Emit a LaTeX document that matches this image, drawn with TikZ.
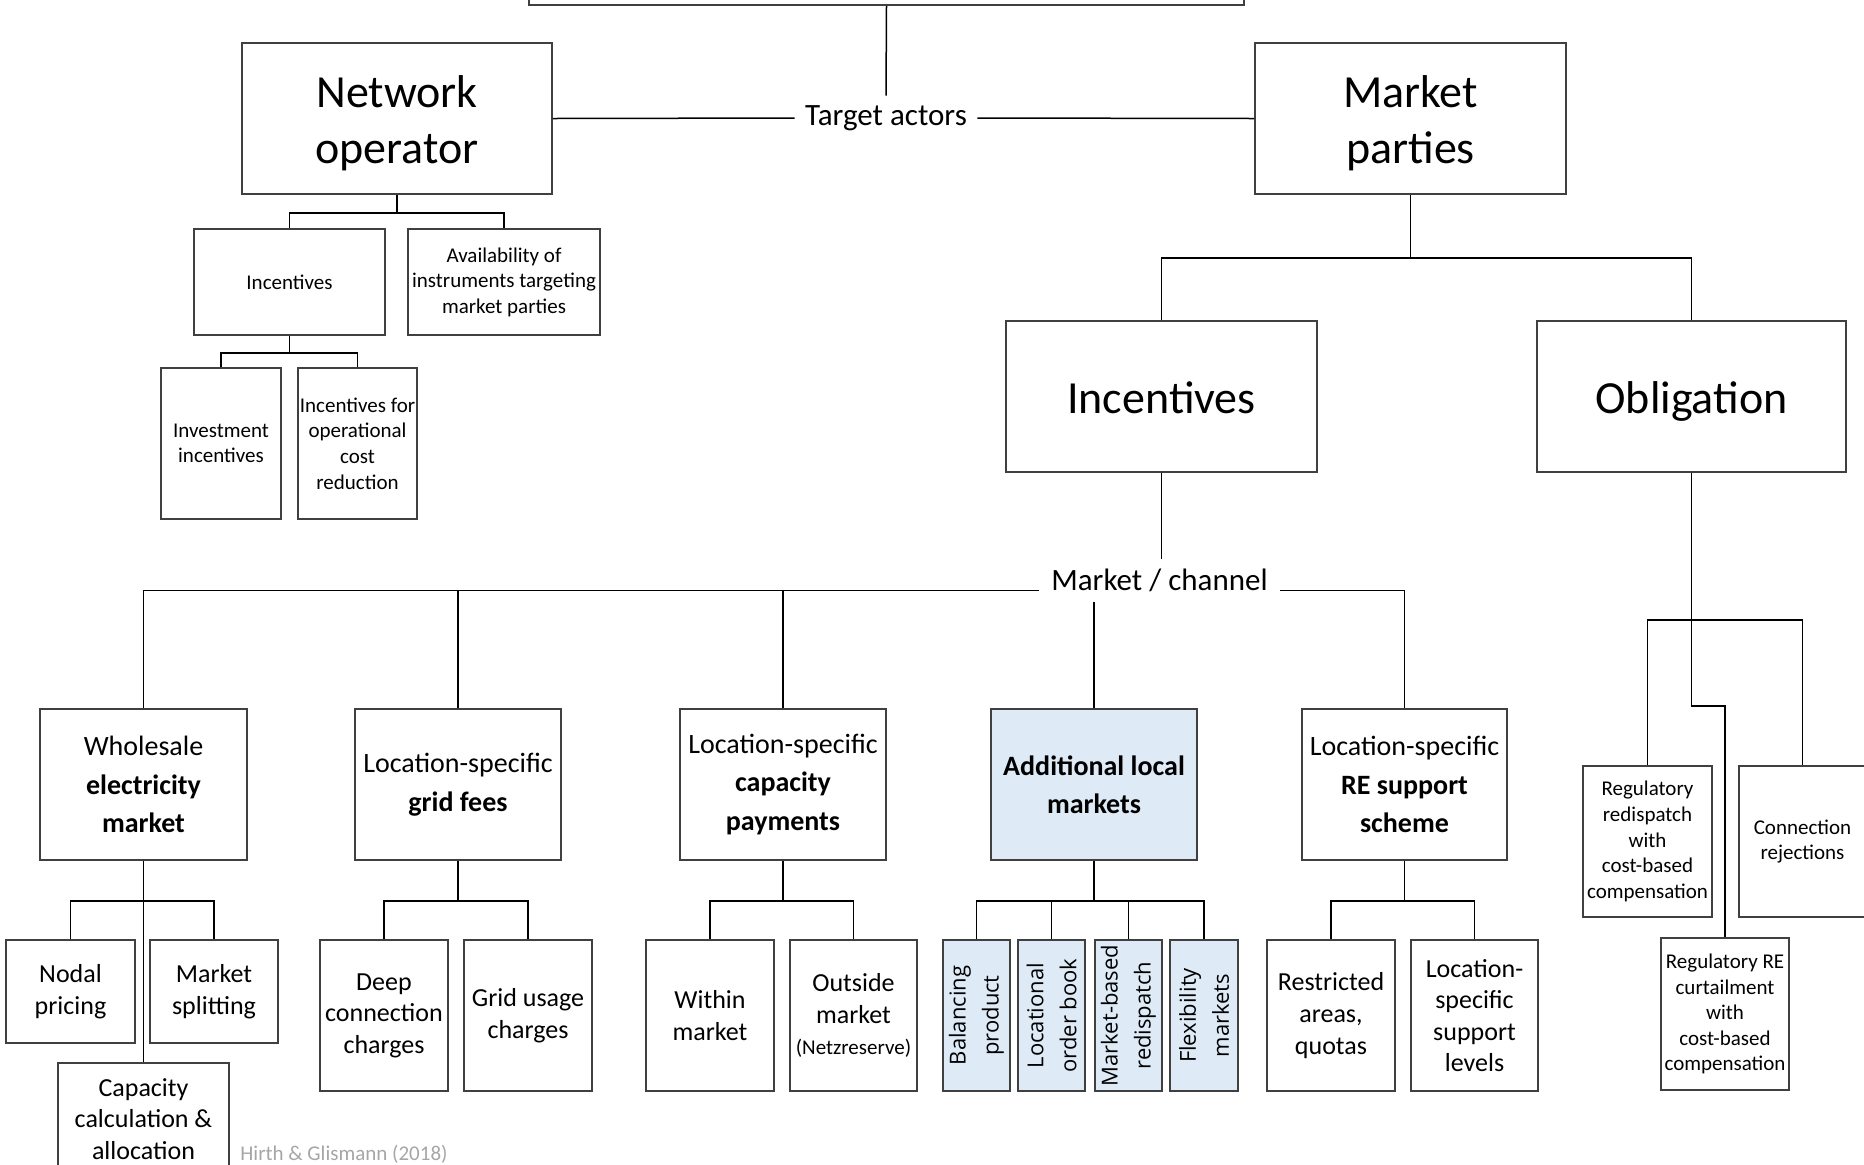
\documentclass[tikz,border=0pt]{standalone}
\usepackage{fontspec}
\setmainfont{Carlito}
\newfontfamily\rotfont{Open Sans}
\definecolor{bordergray}{RGB}{64,64,64}
\definecolor{lightblue}{RGB}{222,234,246}
\definecolor{srcgray}{RGB}{166,166,166}
\newcommand\fBig{\fontsize{23}{28.5}\selectfont}
\newcommand\fLab{\fontsize{15.5}{19}\selectfont}
\newcommand\fMid{\fontsize{14}{19.25}\selectfont}
\newcommand\fTh{\fontsize{13}{15.8}\selectfont}
\newcommand\fSm{\fontsize{10.5}{12.8}\selectfont}
\newcommand\fRot{\rotfont\fontsize{11}{16.5}\selectfont}
\newcommand\lowertext[2]{\raisebox{-#1}[\height][\depth]{#2}}
% \rbox{name}{style}{x1}{y1}{x2}{y2}{text}
\newcommand\rbox[7]{\node[#2, minimum width={(#5-#3)*0.5pt}, minimum height={(#6-#4)*0.5pt}] (#1) at ({(#3+#5)/2},{(#4+#6)/2}) {#7};}
% \treeconn{parent}{bar offset}{first child}{last child}
\newcommand\treeconn[4]{%
  \path (#1.south) ++(0,#2) coordinate (#1-bar);
  \draw[conn] (#1.south) -- (#1-bar);
  \draw[conn] (#3.north) |- (#1-bar) -| (#4.north);}
\begin{document}
\begin{tikzpicture}[x=0.5pt,y=-0.5pt,
  mybox/.style={draw=bordergray, line width=0.9pt, inner sep=0pt, align=center, fill=white},
  bluebox/.style={mybox, fill=lightblue},
  conn/.style={line width=0.75pt, draw=black},
  lbl/.style={inner sep=0pt, align=center}]
\useasboundingbox (0,0) rectangle (1864,1164);
\clip (0,0) rectangle (1864,1164);
% top level
\rbox{top}{mybox}{529}{-40}{1244}{5}{}
\rbox{ta}{lbl,font=\fLab}{795}{96}{977}{140}{Target actors}
\rbox{no}{mybox,font=\fBig}{242}{43}{552}{194}{\lowertext{2.6pt}{\begin{tabular}{@{}c@{}}Network\\[-0.5pt]operator\end{tabular}}}
\rbox{mp}{mybox,font=\fBig}{1255}{43}{1566}{194}{\lowertext{2.6pt}{\begin{tabular}{@{}c@{}}Market\\[-0.5pt]parties\end{tabular}}}
% network operator subtree
\rbox{ninc}{mybox,font=\fSm}{194}{229}{385}{335}{Incentives}
\rbox{navail}{mybox,font=\fSm}{408}{229}{600}{335}{Availability of\\instruments targeting\\market parties}
\rbox{ninv}{mybox,font=\fSm}{161}{368}{281}{519}{Investment\\incentives}
\rbox{nop}{mybox,font=\fSm}{298}{368}{417}{519}{Incentives for\\operational\\cost\\reduction}
% market parties subtree
\rbox{minc}{mybox,font=\fBig}{1006}{321}{1317}{472}{\lowertext{0.5pt}{Incentives}}
\rbox{obl}{mybox,font=\fBig}{1537}{321}{1846}{472}{\lowertext{2.4pt}{Obligation}}
\rbox{mc}{lbl,font=\fLab}{1039}{559}{1280}{602}{Market / channel}
% level 2
\rbox{wh}{mybox,font=\fMid}{40}{709}{247}{860}{Wholesale\\\textbf{electricity}\\\textbf{market}}
\rbox{gf}{mybox,font=\fMid}{355}{709}{561}{860}{Location-specific\\\textbf{grid fees}}
\rbox{cp}{mybox,font=\fMid}{680}{709}{886}{860}{Location-specific\\\textbf{capacity}\\\textbf{payments}}
\rbox{alm}{bluebox,font=\fMid}{991}{709}{1197}{860}{\textbf{Additional local}\\\textbf{markets}}
\rbox{re}{mybox,font=\fMid}{1302}{709}{1507}{860}{Location-specific\\\textbf{RE support}\\\textbf{scheme}}
% obligation children
\rbox{rr}{mybox,font=\fSm}{1583}{766}{1712}{917}{Regulatory\\redispatch\\with\\cost-based\\compensation}
\rbox{cr}{mybox,font=\fSm}{1739}{766}{1866}{917}{Connection\\rejections}
\rbox{rc}{mybox,font=\fSm}{1661}{938}{1789}{1090}{Regulatory RE\\curtailment\\with\\cost-based\\compensation}
% level 3
\rbox{np}{mybox,font=\fTh}{6}{940}{135}{1043}{Nodal\\pricing}
\rbox{ms}{mybox,font=\fTh}{150}{940}{278}{1043}{Market\\splitting}
\rbox{cc}{mybox,font=\fTh}{58}{1063}{229}{1175}{Capacity\\calculation \&\\allocation}
\rbox{dc}{mybox,font=\fTh}{320}{940}{448}{1091}{Deep\\connection\\charges}
\rbox{gu}{mybox,font=\fTh}{464}{940}{592}{1091}{Grid usage\\charges}
\rbox{wm}{mybox,font=\fTh}{646}{940}{774}{1091}{Within\\market}
\rbox{om}{mybox,font=\fTh}{790}{940}{917}{1091}{Outside\\market\\{\fSm(Netzreserve)}}
\rbox{bp}{bluebox}{943}{940}{1010}{1091}{}
\rbox{lo}{bluebox}{1018}{940}{1085}{1091}{}
\rbox{mb}{bluebox}{1095}{940}{1162}{1091}{}
\rbox{fm}{bluebox}{1170}{940}{1238}{1091}{}
\node[lbl,rotate=90,font=\fRot] (bpT) at (bp.center) {Balancing\\product};
\node[lbl,rotate=90,font=\fRot] (loT) at (lo.center) {Locational\\order book};
\node[lbl,rotate=90,font=\fRot] (mbT) at (mb.center) {Market-based\\redispatch};
\node[lbl,rotate=90,font=\fRot] (fmT) at (fm.center) {Flexibility\\markets};
\rbox{ra}{mybox,font=\fTh}{1267}{940}{1395}{1091}{Restricted\\areas,\\quotas}
\rbox{ls}{mybox,font=\fTh}{1411}{940}{1538}{1091}{Location-\\specific\\support\\levels}
\node[lbl,anchor=west,text=srcgray,font=\fSm] (src) at (240,1154) {Hirth \& Glismann (2018)};
% connectors
\draw[conn] (top.south) -- (ta.north);
\draw[conn] (no.east) -- (ta.west);
\draw[conn] (ta.east) -- (mp.west);
\treeconn{no}{18}{ninc}{navail}
\treeconn{ninc}{17}{ninv}{nop}
\treeconn{mp}{63}{minc}{obl}
\draw[conn] (minc.south) -- (minc.south |- mc.north);
\draw[conn] (alm.north |- mc.south) -- (alm.north);
\draw[conn] (wh.north) |- (mc.base west);
\draw[conn] (gf.north) -- (gf.north |- mc.base west);
\draw[conn] (cp.north) -- (cp.north |- mc.base west);
\draw[conn] (mc.base east) -| (re.north);
\treeconn{wh}{40}{np}{ms}
\draw[conn] (wh-bar) -- (cc.north);
\treeconn{gf}{40}{dc}{gu}
\treeconn{cp}{40}{wm}{om}
\treeconn{alm}{40}{bp}{fm}
\draw[conn] (lo.north) -- (lo.north |- alm-bar);
\draw[conn] (mb.north) -- (mb.north |- alm-bar);
\treeconn{re}{40}{ra}{ls}
\treeconn{obl}{147}{rr}{cr}
\draw[conn] (obl-bar) -- ++(0,86) -| (rc.north);
\end{tikzpicture}
\end{document}
